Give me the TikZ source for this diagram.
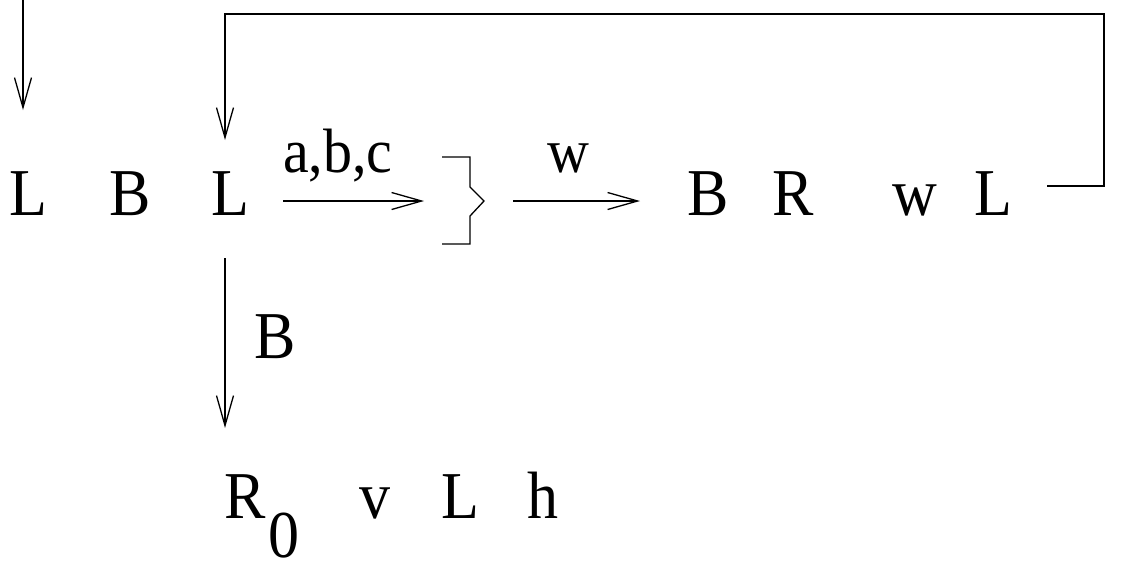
\documentclass[tikz,border=0pt]{standalone}
\usepackage{graphicx}
\usepackage{fontspec}
\setmainfont{Liberation Serif}
\usetikzlibrary{arrows.meta}
\newcommand\stretchtx[1]{\scalebox{1}[1.08]{#1}}
\begin{document}
\begin{tikzpicture}[x=1pt,y=-1pt,
  lbl/.style={anchor=base west,inner sep=0pt,font=\fontsize{62}{70}\selectfont},
  sm/.style={anchor=base west,inner sep=0pt,font=\fontsize{58}{66}\selectfont},
  ln/.style={line width=1.3pt,line join=miter},
  arr/.style={ln,-{Straight Barb[length=30pt,width=17pt,line width=1.3pt]}}]
\useasboundingbox (0,0) rectangle (1121,571);
% top row
\node[lbl] (L1) at (9,215) {\stretchtx{L}};
\node[lbl] (B1) at (109,215) {\stretchtx{B}};
\node[lbl] (L2) at (211,215) {\stretchtx{L}};
\node[sm] (abc) at (283,172) {\stretchtx{a,b,c}};
\node[sm] (w1) at (547,172) {\stretchtx{w}};
\node[lbl] (B2) at (687,215) {\stretchtx{B}};
\node[lbl] (R1) at (772,215) {\stretchtx{R}};
\node[lbl] (w2) at (892,215) {\stretchtx{w}};
\node[lbl] (L3) at (974,215) {\stretchtx{L}};
% middle label
\node[lbl] (B3) at (254,358) {\stretchtx{B}};
% bottom row
\node[lbl] (R0) at (224,518) {\stretchtx{R}};
\node[lbl] (zero) at (268,557) {\stretchtx{0}};
\node[lbl] (v) at (359,518) {\stretchtx{v}};
\node[lbl] (L4) at (441,518) {\stretchtx{L}};
\node[lbl] (h) at (527,518) {\stretchtx{h}};
% coordinates
\coordinate (in0) at (23,0);
\coordinate (in1) at (23,110);
\coordinate (fb0) at (1047,186);
\coordinate (fb1) at (1104,186);
\coordinate (fb2) at (1104,14);
\coordinate (fb3) at (225,14);
\coordinate (fb4) at (225,140);
\coordinate (a1s) at (283,201);
\coordinate (a1e) at (424,201);
\coordinate (a2s) at (513,201);
\coordinate (a2e) at (640,201);
\coordinate (dns) at (225,258);
\coordinate (dne) at (225,428);
% connectors
\draw[arr] (in0) -- (in1);
\draw[arr] (fb0) -- (fb1) -- (fb2) -- (fb3) -- (fb4);
\draw[arr] (a1s) -- (a1e);
\draw[arr] (a2s) -- (a2e);
\draw[arr] (dns) -- (dne);
% bracket
\draw[ln] (442,157) -- (470,157) -- (470,187) -- (484,201) -- (470,216) -- (470,244) -- (442,244);
\end{tikzpicture}
\end{document}
